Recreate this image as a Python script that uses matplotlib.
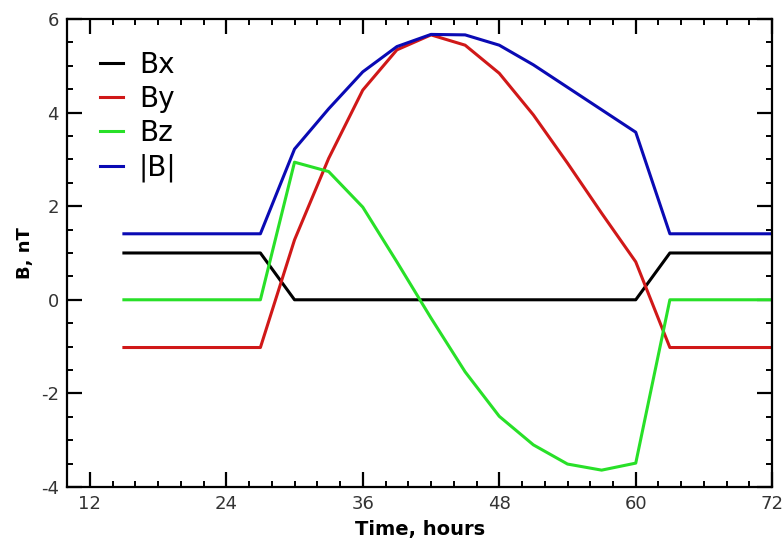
import matplotlib
matplotlib.use("Agg")
import matplotlib.pyplot as plt
from matplotlib.ticker import MultipleLocator

plt.rcParams["axes.unicode_minus"] = False

time_h = [15, 27, 30, 33, 36, 39, 42, 45, 48, 51, 54, 57, 60, 63, 72]
bx = [1, 1, 0, 0, 0, 0, 0, 0, 0, 0, 0, 0, 0, 1, 1]
by = [-1.02, -1.02, 1.28, 3.02, 4.48, 5.34, 5.66, 5.44, 4.84, 3.95, 2.92, 1.85, 0.81, -1.02, -1.02]
bz = [0, 0, 2.94, 2.74, 1.98, 0.81, -0.39, -1.54, -2.49, -3.1, -3.51, -3.64, -3.49, 0, 0]
bmag = [1.41, 1.41, 3.22, 4.08, 4.87, 5.41, 5.67, 5.66, 5.44, 5.02, 4.54, 4.06, 3.58, 1.41, 1.41]
labels = ["Bx", "By", "Bz", "|B|"]
colors = ["#000000", "#d01818", "#28e028", "#0a0ab4"]

fig = plt.figure(figsize=(7.84, 5.42), dpi=100)
ax = fig.add_axes([0.0855, 0.1015, 0.8995, 0.8635])

for series, lab, col in zip([bx, by, bz, bmag], labels, colors):
    ax.plot(time_h, series, color=col, lw=2.2, label=lab)

ax.set_xlim(10, 72)
ax.set_ylim(-4, 6)
ax.xaxis.set_major_locator(MultipleLocator(12))
ax.xaxis.set_minor_locator(MultipleLocator(2))
ax.yaxis.set_major_locator(MultipleLocator(2))
ax.yaxis.set_minor_locator(MultipleLocator(0.5))
ax.tick_params(which="both", direction="in", top=True, right=True,
               labelsize=13, labelcolor="#333333", pad=6)
ax.tick_params(which="major", length=11, width=1.6)
ax.tick_params(which="minor", length=4, width=1.4)
for s in ax.spines.values():
    s.set_linewidth(1.6)

ax.set_xlabel("Time, hours", fontsize=14, fontweight="bold", labelpad=5)
ax.set_ylabel("B, nT", fontsize=13, fontweight="bold", labelpad=5)

leg = ax.legend(loc="upper left", frameon=False, fontsize=20,
                handlelength=0.8, handletextpad=0.58, labelspacing=0.22,
                bbox_to_anchor=(0.012, 0.985))

fig.savefig("out.png", dpi=100)
